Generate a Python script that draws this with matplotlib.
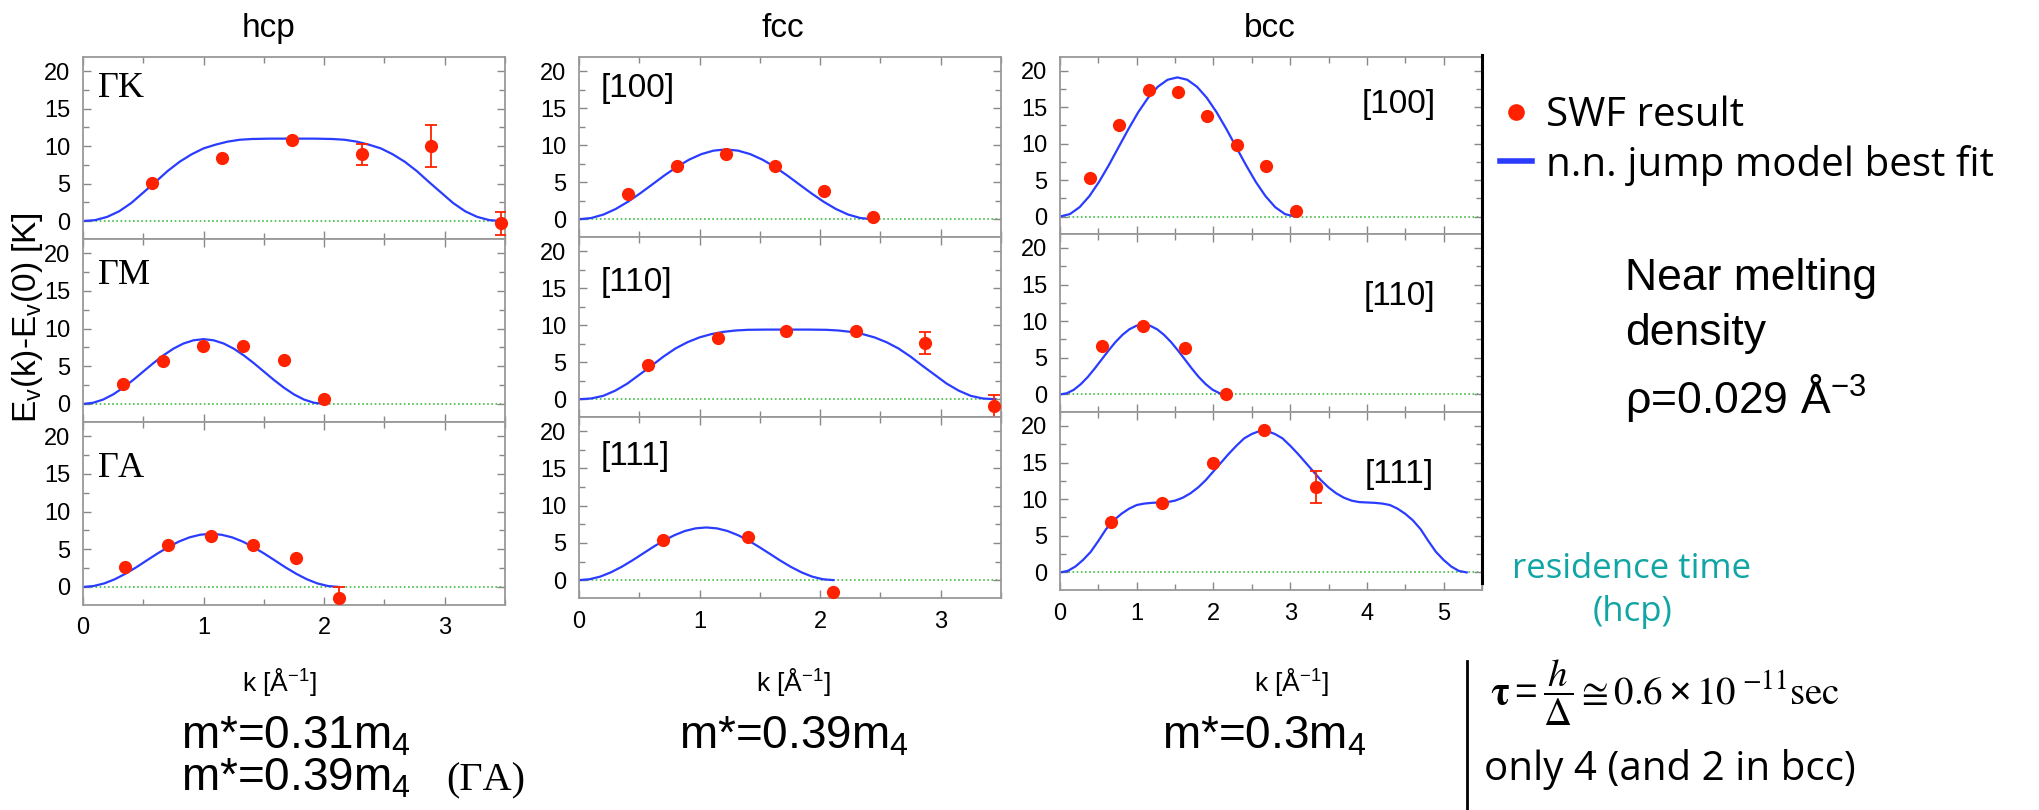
#!/usr/bin/env python
# -*- coding:utf-8 -*-
import matplotlib
matplotlib.use('Agg')
import matplotlib.pyplot as plt
from matplotlib.lines import Line2D
from matplotlib.ticker import MultipleLocator
import numpy as np

W, H = 2040, 810

RED = '#ff2200'
BLUE = '#2a3cff'
GREEN = '#44bb44'
TEAL = '#12a5a5'

# ---------------- data (k in 1/A, E in K) ----------------
# hcp, Gamma-K
hcp_gk_k = [0.57, 1.155, 1.73, 2.31, 2.886, 3.47]
hcp_gk_e = [5.1, 8.4, 10.8, 8.9, 10.0, -0.3]
hcp_gk_err = [0, 0, 0, 1.4, 2.8, 1.5]
hcp_gk_fit_k = [0, 0.1, 0.2, 0.3, 0.4, 0.5, 0.6, 0.7, 0.8, 0.9, 1.0, 1.1, 1.2, 1.3, 1.4, 1.55, 1.735,
                1.92, 2.07, 2.17, 2.27, 2.37, 2.47, 2.57, 2.67, 2.77, 2.87, 2.97, 3.07, 3.17, 3.27,
                3.37, 3.47]
hcp_gk_fit_e = [0, 0.12, 0.55, 1.3, 2.4, 3.8, 5.2, 6.65, 7.9, 8.9, 9.7, 10.2, 10.6, 10.85, 10.95,
                11.0, 11.0, 11.0, 10.95, 10.85, 10.6, 10.2, 9.7, 8.9, 7.9, 6.65, 5.2, 3.8, 2.4, 1.3,
                0.55, 0.12, 0]

# hcp, Gamma-M
hcp_gm_k = [0.33, 0.664, 0.995, 1.33, 1.664, 2.0]
hcp_gm_e = [2.6, 5.75, 7.67, 7.67, 5.8, 0.6]
hcp_gm_err = [0, 0, 0, 0, 0, 0]
hcp_gm_fit_k = [0, 0.083, 0.167, 0.25, 0.333, 0.417, 0.5, 0.583, 0.667, 0.75, 0.833, 0.917, 1.0,
                1.083, 1.167, 1.25, 1.333, 1.417, 1.5, 1.583, 1.667, 1.75, 1.833, 1.917, 2.0]
hcp_gm_fit_e = [0, 0.15, 0.58, 1.26, 2.15, 3.19, 4.3, 5.41, 6.45, 7.34, 8.02, 8.45, 8.6,
                8.45, 8.02, 7.34, 6.45, 5.41, 4.3, 3.19, 2.15, 1.26, 0.58, 0.15, 0]

# hcp, Gamma-A
hcp_ga_k = [0.35, 0.706, 1.058, 1.414, 1.767, 2.12]
hcp_ga_e = [2.7, 5.6, 6.7, 5.6, 3.8, -1.5]
hcp_ga_err = [0, 0, 0, 0, 0, 1.5]
hcp_ga_fit_k = [0, 0.088, 0.177, 0.265, 0.353, 0.442, 0.53, 0.618, 0.707, 0.795, 0.883, 0.972, 1.06,
                1.148, 1.237, 1.325, 1.413, 1.502, 1.59, 1.678, 1.767, 1.855, 1.943, 2.032, 2.12]
hcp_ga_fit_e = [0, 0.12, 0.47, 1.03, 1.76, 2.61, 3.53, 4.44, 5.29, 6.02, 6.58, 6.93, 7.05,
                6.93, 6.58, 6.02, 5.29, 4.44, 3.53, 2.61, 1.76, 1.03, 0.47, 0.12, 0]

# fcc [100]
fcc_100_k = [0.405, 0.812, 1.217, 1.623, 2.03, 2.435]
fcc_100_e = [3.4, 7.15, 8.8, 7.15, 3.85, 0.3]
fcc_100_err = [0, 0, 0, 0, 0, 0]
fcc_100_fit_k = [0, 0.101, 0.203, 0.304, 0.406, 0.507, 0.609, 0.71, 0.812, 0.913, 1.015, 1.116,
                 1.217, 1.319, 1.42, 1.522, 1.623, 1.725, 1.826, 1.928, 2.029, 2.131, 2.232,
                 2.334, 2.435]
fcc_100_fit_e = [0, 0.16, 0.63, 1.38, 2.36, 3.49, 4.71, 5.93, 7.07, 8.04, 8.79, 9.26, 9.42,
                 9.26, 8.79, 8.04, 7.07, 5.93, 4.71, 3.49, 2.36, 1.38, 0.63, 0.16, 0]

# fcc [110]
fcc_110_k = [0.575, 1.149, 1.72, 2.30, 2.87, 3.446]
fcc_110_e = [4.6, 8.3, 9.2, 9.2, 7.6, -0.9]
fcc_110_err = [0, 0, 0, 0, 1.45, 1.45]
fcc_110_fit_k = [0, 0.1, 0.2, 0.3, 0.4, 0.5, 0.6, 0.7, 0.8, 0.9, 1.0, 1.1, 1.2, 1.3, 1.4, 1.55,
                 1.725, 1.9, 2.05, 2.15, 2.25, 2.35, 2.45, 2.55, 2.65, 2.75, 2.85, 2.95, 3.05,
                 3.15, 3.25, 3.35, 3.45]
fcc_110_fit_e = [0, 0.1, 0.45, 1.15, 2.1, 3.3, 4.5, 5.75, 6.85, 7.7, 8.35, 8.8, 9.1, 9.28, 9.37,
                 9.4, 9.4, 9.4, 9.37, 9.28, 9.1, 8.8, 8.35, 7.7, 6.85, 5.75, 4.5, 3.3, 2.1,
                 1.15, 0.45, 0.1, 0]

# fcc [111]
fcc_111_k = [0.70, 1.405, 2.11]
fcc_111_e = [5.4, 5.8, -1.6]
fcc_111_err = [0, 0, 0]
fcc_111_fit_k = [0, 0.088, 0.176, 0.264, 0.352, 0.44, 0.528, 0.615, 0.703, 0.791, 0.879, 0.967,
                 1.055, 1.143, 1.231, 1.319, 1.407, 1.494, 1.582, 1.67, 1.758, 1.846, 1.934,
                 2.022, 2.11]
fcc_111_fit_e = [0, 0.12, 0.47, 1.04, 1.77, 2.62, 3.54, 4.45, 5.3, 6.03, 6.6, 6.95, 7.07,
                 6.95, 6.6, 6.03, 5.3, 4.45, 3.54, 2.62, 1.77, 1.04, 0.47, 0.12, 0]

# bcc [100]
bcc_100_k = [0.385, 0.771, 1.156, 1.541, 1.922, 2.307, 2.688, 3.074]
bcc_100_e = [5.3, 12.5, 17.4, 17.1, 13.8, 9.8, 7.0, 0.7]
bcc_100_err = [0, 0, 0, 0, 0, 0, 0, 0]
bcc_100_fit_k = [0, 0.128, 0.255, 0.383, 0.51, 0.638, 0.765, 0.893, 1.02, 1.148, 1.275, 1.403,
                 1.53, 1.658, 1.785, 1.913, 2.04, 2.168, 2.295, 2.423, 2.55, 2.678, 2.805,
                 2.933, 3.06]
bcc_100_fit_e = [0, 0.33, 1.28, 2.8, 4.78, 7.08, 9.55, 12.02, 14.33, 16.3, 17.82, 18.78, 19.1,
                 18.78, 17.82, 16.3, 14.33, 12.02, 9.55, 7.08, 4.78, 2.8, 1.28, 0.33, 0]

# bcc [110]
bcc_110_k = [0.545, 1.087, 1.627, 2.17]
bcc_110_e = [6.55, 9.3, 6.3, 0.0]
bcc_110_err = [0, 0, 0, 0]
bcc_110_fit_k = [0, 0.09, 0.181, 0.271, 0.362, 0.452, 0.543, 0.633, 0.723, 0.814, 0.904, 0.995,
                 1.085, 1.175, 1.266, 1.356, 1.447, 1.537, 1.628, 1.718, 1.808, 1.899, 1.989,
                 2.08, 2.17]
bcc_110_fit_e = [0, 0.16, 0.64, 1.4, 2.38, 3.53, 4.77, 6.0, 7.15, 8.13, 8.89, 9.37, 9.53,
                 9.37, 8.89, 8.13, 7.15, 6.0, 4.77, 3.53, 2.38, 1.4, 0.64, 0.16, 0]

# bcc [111]
bcc_111_k = [0.667, 1.333, 1.996, 2.662, 3.33]
bcc_111_e = [6.9, 9.45, 14.95, 19.5, 11.7]
bcc_111_err = [0, 0, 0, 0, 2.2]
bcc_111_fit_k = [0, 0.1, 0.2, 0.3, 0.4, 0.5, 0.6, 0.7, 0.8, 0.9, 1.0, 1.1, 1.2, 1.3, 1.4, 1.5,
                 1.6, 1.7, 1.8, 1.9, 2.0, 2.1, 2.2, 2.3, 2.4, 2.5, 2.575, 2.65, 2.725, 2.8, 2.9,
                 3.0, 3.1, 3.2, 3.3, 3.4, 3.5, 3.6, 3.7, 3.8, 3.9, 4.0, 4.1, 4.2, 4.3, 4.4, 4.5,
                 4.6, 4.7, 4.8, 4.9, 5.0, 5.1, 5.2, 5.3]
bcc_111_fit_e = [0, 0.2, 0.8, 1.7, 2.8, 4.3, 5.9, 7.1, 8.0, 8.7, 9.2, 9.4, 9.5, 9.55, 9.6, 9.8,
                 10.2, 10.8, 11.6, 12.6, 13.8, 15.0, 16.2, 17.3, 18.3, 18.9, 19.2, 19.3, 19.2,
                 18.9, 18.3, 17.3, 16.2, 15.0, 13.8, 12.6, 11.6, 10.8, 10.2, 9.8, 9.6, 9.55, 9.5,
                 9.4, 9.2, 8.7, 8.0, 7.1, 5.9, 4.3, 2.8, 1.7, 0.8, 0.2, 0]

columns = ['hcp', 'fcc', 'bcc']
panel_labels = [[r'$\Gamma$K', r'$\Gamma$M', r'$\Gamma$A'],
                ['[100]', '[110]', '[111]'],
                ['[100]', '[110]', '[111]']]
mass_labels = [r'm*=0.31m$_4$', r'm*=0.39m$_4$', r'm*=0.3m$_4$']
x_ticks = [[0, 1, 2, 3], [0, 1, 2, 3], [0, 1, 2, 3, 4, 5]]

panels = [
    [(hcp_gk_k, hcp_gk_e, hcp_gk_err, hcp_gk_fit_k, hcp_gk_fit_e),
     (hcp_gm_k, hcp_gm_e, hcp_gm_err, hcp_gm_fit_k, hcp_gm_fit_e),
     (hcp_ga_k, hcp_ga_e, hcp_ga_err, hcp_ga_fit_k, hcp_ga_fit_e)],
    [(fcc_100_k, fcc_100_e, fcc_100_err, fcc_100_fit_k, fcc_100_fit_e),
     (fcc_110_k, fcc_110_e, fcc_110_err, fcc_110_fit_k, fcc_110_fit_e),
     (fcc_111_k, fcc_111_e, fcc_111_err, fcc_111_fit_k, fcc_111_fit_e)],
    [(bcc_100_k, bcc_100_e, bcc_100_err, bcc_100_fit_k, bcc_100_fit_e),
     (bcc_110_k, bcc_110_e, bcc_110_err, bcc_110_fit_k, bcc_110_fit_e),
     (bcc_111_k, bcc_111_e, bcc_111_err, bcc_111_fit_k, bcc_111_fit_e)],
]

# ---------------- layout (pixels of the 2040x810 canvas) ----------------
col_x = [(83, 505), (579, 1001), (1060, 1482)]
col_rows = [[57, 239, 422, 605], [57, 237, 417, 598], [57, 234, 412, 590]]
col_xmax = [3.5, 3.5, 5.5]
title_x = [268, 783, 1270]
klabel_x = [279, 793, 1291]
mass_x = [181, 679, 1162]
# where the panel tags sit, in data units
tag_pos = [[(0.12, 17.7), (0.12, 17.0), (0.12, 15.7)],
           [(0.18, 17.7), (0.18, 15.8), (0.18, 16.6)],
           [(4.42, 15.4), (4.42, 13.4), (4.42, 13.4)]]

plt.rcParams['font.family'] = ['Liberation Sans', 'DejaVu Sans']
plt.rcParams['mathtext.fontset'] = 'custom'
plt.rcParams['mathtext.rm'] = 'Liberation Sans'
plt.rcParams['mathtext.it'] = 'Liberation Sans:italic'
plt.rcParams['mathtext.bf'] = 'Liberation Sans:bold'
plt.rcParams['mathtext.default'] = 'regular'


def fx(x):
    return x / float(W)


def fy(y):
    return 1.0 - y / float(H)


def draw_panel(ax, data, xmax, ticks, tag, tag_xy, col, bottom):
    k, e, err, fit_k, fit_e = data
    k = np.array(k)
    e = np.array(e)
    err = np.array(err)
    ax.axhline(0, color=GREEN, lw=1.2, ls=(0, (1, 1.5)), zorder=1)
    ax.plot(fit_k, fit_e, color=BLUE, lw=1.6, solid_joinstyle='round', zorder=2)
    has_err = err > 0
    if has_err.any():
        ax.errorbar(k[has_err], e[has_err], yerr=err[has_err], fmt='none', ecolor=RED,
                    elinewidth=1.3, capsize=4, capthick=1.3, zorder=3)
    ax.plot(k, e, 'o', color=RED, ms=9.5, mec='none', zorder=4, clip_on=False)

    ax.set_xlim(0, xmax)
    ax.set_ylim(-2.4, 21.9)
    ax.set_xticks(ticks)
    ax.xaxis.set_minor_locator(MultipleLocator(0.5))
    ax.set_yticks([0, 5, 10, 15, 20])
    ax.yaxis.set_minor_locator(MultipleLocator(2.5))
    ax.tick_params(which='both', direction='in', top=True, right=True, color='#888888',
                   labelsize=17, pad=9)
    ax.tick_params(which='major', length=6, width=1)
    ax.tick_params(which='minor', length=4, width=1)
    if not bottom:
        ax.tick_params(labelbottom=False)
    for sp in ax.spines.values():
        sp.set_color('#999999')
        sp.set_linewidth(1.3)

    if col == 0:
        ax.text(tag_xy[0], tag_xy[1], tag, fontsize=26, ha='left', va='center',
                family='Liberation Serif', math_fontfamily='stix')
    elif col == 1:
        ax.text(tag_xy[0], tag_xy[1], tag, fontsize=24, ha='left', va='center')
    else:
        ax.text(tag_xy[0], tag_xy[1], tag, fontsize=24, ha='center', va='center')


fig = plt.figure(figsize=(W / 100.0, H / 100.0), dpi=100)

for c in range(3):
    left, right = col_x[c]
    rows = col_rows[c]
    for r in range(3):
        top, bot = rows[r], rows[r + 1]
        ax = fig.add_axes([fx(left), fy(bot), (right - left) / float(W), (bot - top) / float(H)])
        draw_panel(ax, panels[c][r], col_xmax[c], x_ticks[c], panel_labels[c][r],
                   tag_pos[c][r], c, r == 2)
    fig.text(fx(title_x[c]), fy(37), columns[c], fontsize=24, ha='center', va='baseline')
    fig.text(fx(klabel_x[c]), fy(682), r'k [Å$^{-1}$]', fontsize=19, ha='center', va='center')
    fig.text(fx(mass_x[c]), fy(748), mass_labels[c], fontsize=33, ha='left', va='baseline')

fig.text(fx(181), fy(790), r'm*=0.39m$_4$', fontsize=33, ha='left', va='baseline')
fig.text(fx(446), fy(790), u'(\u0393A)', fontsize=29, ha='left', va='baseline',
         family='Liberation Serif')

fig.text(fx(28), fy(318), r'E$_v$(k)-E$_v$(0) [K]', fontsize=24, rotation=90,
         ha='center', va='center')

# legend
handles = [Line2D([], [], marker='o', ls='none', color=RED, ms=12, mec='none'),
           Line2D([], [], color=BLUE, lw=4)]
fig.legend(handles, ['SWF result', 'n.n. jump model best fit'], loc='upper left',
           bbox_to_anchor=(fx(1500), fy(96)), frameon=False,
           handlelength=0.8, handletextpad=0.35, labelspacing=0.2, borderpad=0,
           borderaxespad=0, prop={'family': 'Open Sans', 'size': 29})

fig.text(fx(1625), fy(290), 'Near melting', fontsize=32, ha='left', va='baseline')
fig.text(fx(1625), fy(345), 'density', fontsize=32, ha='left', va='baseline')
fig.text(fx(1625), fy(413), u'\u03c1=0.029 Å$^{-3}$', fontsize=32, ha='left', va='baseline')

fig.text(fx(1632), fy(569), 'residence time', fontsize=25, ha='center', va='center',
         color=TEAL, family='Open Sans')
fig.text(fx(1632), fy(612), '(hcp)', fontsize=25, ha='center', va='center',
         color=TEAL, family='Open Sans')
fig.text(fx(1490), fy(705),
         r'$\mathbf{\tau} = \dfrac{\mathit{h}}{\mathrm{\Delta}} \cong \mathrm{0.6} \times '
         r'\mathrm{10}^{\ \mathrm{-11}}\mathrm{sec}$',
         fontsize=28, ha='left', va='baseline', math_fontfamily='stix')
fig.text(fx(1484), fy(780), 'only 4 (and 2 in bcc)', fontsize=29, ha='left',
         va='baseline', family='Open Sans')

# slide separators
fig.add_artist(Line2D([fx(1482), fx(1482)], [fy(55), fy(583)], color='black', lw=2.2))
fig.add_artist(Line2D([fx(1467), fx(1467)], [fy(661), fy(812)], color='black', lw=2.0))

fig.savefig('out.png', dpi=100)
